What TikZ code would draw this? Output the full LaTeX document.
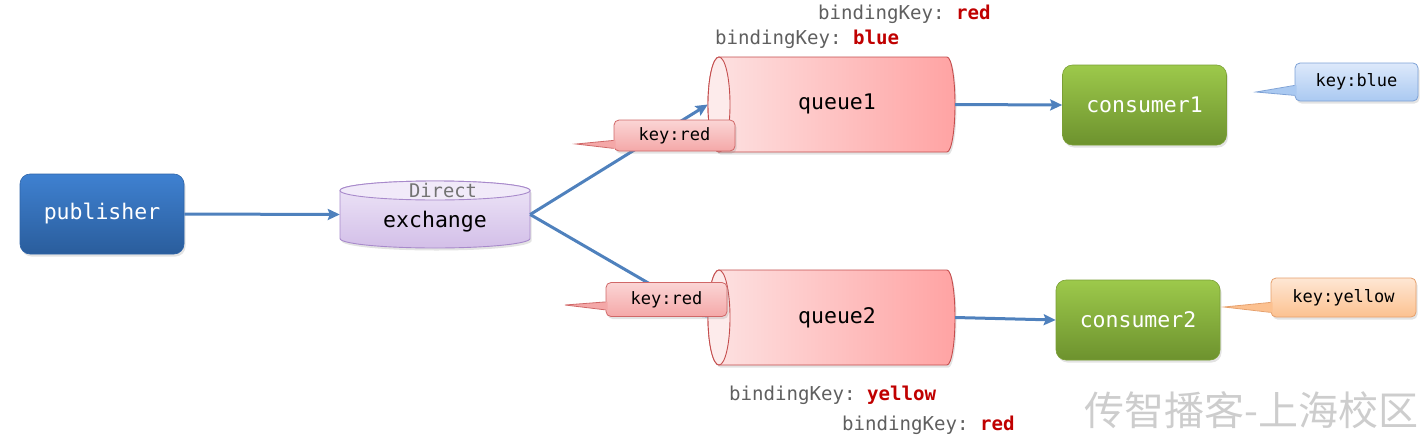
\documentclass[tikz,border=0pt]{standalone}
\usepackage{fontspec}
\setmonofont{DejaVu Sans Mono}
\newfontfamily\cjk{Noto Sans CJK SC}
\usetikzlibrary{arrows.meta,shadows,calc}
\definecolor{pubtop}{HTML}{3F81D1}
\definecolor{pubbot}{HTML}{2A5D9C}
\definecolor{pubborder}{HTML}{2E64A8}
\definecolor{contop}{HTML}{9DC94B}
\definecolor{conbot}{HTML}{6D922E}
\definecolor{conborder}{HTML}{7A9F35}
\definecolor{extop}{HTML}{EEE6F8}
\definecolor{exbot}{HTML}{D3BFE8}
\definecolor{exface}{HTML}{F1EAF9}
\definecolor{exborder}{HTML}{A88ACB}
\definecolor{qleft}{HTML}{FDE3E3}
\definecolor{qright}{HTML}{FFA3A3}
\definecolor{qborder}{HTML}{C44D4D}
\definecolor{qap}{HTML}{FDEBEB}
\definecolor{arrowblue}{HTML}{4F81BD}
\definecolor{bkgray}{HTML}{5F5F5F}
\definecolor{bkred}{HTML}{C00000}
\definecolor{redtop}{HTML}{FBD5D5}
\definecolor{redbot}{HTML}{F4A8A8}
\definecolor{redborder}{HTML}{D06868}
\definecolor{bluetop}{HTML}{DDE9FB}
\definecolor{bluebot}{HTML}{AAC9F1}
\definecolor{blueborder}{HTML}{7EA2D6}
\definecolor{yeltop}{HTML}{FEE7D4}
\definecolor{yelbot}{HTML}{FCC190}
\definecolor{yelborder}{HTML}{E6A06C}
\definecolor{wmark}{HTML}{CDCDCD}
\begin{document}
\begin{tikzpicture}[x=1pt,y=-1pt,
  shadowed/.style={drop shadow={opacity=0.22,shadow xshift=1.5pt,shadow yshift=-2.5pt}},
  bigtext/.style={font=\ttfamily\fontsize{21.5}{25}\selectfont},
  appbox/.style={shadowed,rounded corners=10pt,minimum width=164pt,minimum height=80pt,
    inner sep=0pt,bigtext,text=white},
  pubbox/.style={appbox,top color=pubtop,bottom color=pubbot,draw=pubborder,line width=0.6pt},
  conbox/.style={appbox,top color=contop,bottom color=conbot,draw=conborder,line width=0.6pt},
  shapebox/.style={rectangle,draw=none,inner sep=0pt},
  qbody/.style={shadowed,left color=qleft,right color=qright,draw=qborder,line width=0.9pt},
  exbody/.style={shadowed,top color=extop,bottom color=exbot,draw=exborder,line width=0.9pt},
  conn/.style={draw=arrowblue,line width=3pt,-{Stealth[length=12pt,width=11pt,inset=2pt]}},
  keybox/.style={shadowed,rectangle,rounded corners=5pt,inner sep=0pt,line width=0.8pt,
    font=\ttfamily\fontsize{17}{20}\selectfont},
  bklabel/.style={anchor=west,inner sep=0pt,text=bkgray,font=\ttfamily\fontsize{19.1}{22}\selectfont}]
\useasboundingbox (0,0) rectangle (1424,437);

% exchange cylinder
\path[exbody] (340,190.5) -- (340,238.5) arc[start angle=180,end angle=0,x radius=95,y radius=9.5]
  -- (530,190.5) arc[start angle=0,end angle=-180,x radius=95,y radius=9.5] -- cycle;
\filldraw[fill=exface,draw=exborder,line width=0.9pt] (435,190.5) ellipse[x radius=95,y radius=9.5];
\node[shapebox,minimum width=190pt,minimum height=67pt] (ex) at (435,214.5) {};
\node[inner sep=0pt,text=black!55,font=\ttfamily\fontsize{18.8}{22}\selectfont] (exdir) at (443,190) {Direct};
\node[inner sep=0pt,bigtext] (exname) at (435,222) {exchange};

% queue1
\path[qbody] (719,57) -- (947,57) arc[start angle=-90,end angle=90,x radius=8,y radius=47.5]
  -- (719,152) arc[start angle=90,end angle=270,x radius=11,y radius=47.5] -- cycle;
\filldraw[fill=qap,draw=qborder,line width=0.9pt] (719,104.5) ellipse[x radius=11,y radius=47.5];
\node[shapebox,minimum width=247pt,minimum height=95pt] (q1) at (831.5,104.5) {};
\node[inner sep=0pt,bigtext] (q1name) at (837,104) {queue1};

% queue2
\path[qbody] (719,270) -- (947,270) arc[start angle=-90,end angle=90,x radius=8,y radius=47.5]
  -- (719,365) arc[start angle=90,end angle=270,x radius=11,y radius=47.5] -- cycle;
\filldraw[fill=qap,draw=qborder,line width=0.9pt] (719,317.5) ellipse[x radius=11,y radius=47.5];
\node[shapebox,minimum width=247pt,minimum height=95pt] (q2) at (831.5,317.5) {};
\node[inner sep=0pt,bigtext] (q2name) at (837,318) {queue2};

% boxes
\node[pubbox] (pub) at (102,214) {publisher};
\node[conbox] (c1) at (1144.5,105) {consumer1};
\node[conbox] (c2) at (1138,320) {consumer2};

% connectors
\draw[conn] (pub.east) -- (ex.west);
\draw[conn] (ex.east) -- (q1.west);
\draw[conn] (ex.east) -- (q2.west);
\draw[conn] (q1.east) -- (c1.west);
\draw[conn] (q2.east) -- (c2.west);

% callouts
\node[keybox,top color=redtop,bottom color=redbot,draw=redborder,minimum width=121pt,minimum height=31pt]
  (k1) at (674.5,135.5) {key:red};
\coordinate (k1tip) at (576,144);
\fill[redbot] ($(k1.south west)+(2,-3)$) -- (k1tip) -- ($(k1.south west)+(2,-11)$) -- cycle;
\draw[redborder,line width=0.8pt] ($(k1.south west)+(0,-3)$) -- (k1tip) -- ($(k1.south west)+(0,-11)$);

\node[keybox,top color=redtop,bottom color=redbot,draw=redborder,minimum width=121pt,minimum height=34pt]
  (k2) at (666.5,299.5) {key:red};
\coordinate (k2tip) at (565,305);
\fill[redbot] ($(k2.south west)+(2,-7)$) -- (k2tip) -- ($(k2.south west)+(2,-15)$) -- cycle;
\draw[redborder,line width=0.8pt] ($(k2.south west)+(0,-7)$) -- (k2tip) -- ($(k2.south west)+(0,-15)$);

\node[keybox,top color=bluetop,bottom color=bluebot,draw=blueborder,minimum width=123pt,minimum height=38pt]
  (kb) at (1356.5,82) {key:blue};
\coordinate (kbtip) at (1256,92);
\fill[bluebot] ($(kb.south west)+(2,-6)$) -- (kbtip) -- ($(kb.south west)+(2,-16)$) -- cycle;
\draw[blueborder,line width=0.8pt] ($(kb.south west)+(0,-6)$) -- (kbtip) -- ($(kb.south west)+(0,-16)$);

\node[keybox,top color=yeltop,bottom color=yelbot,draw=yelborder,minimum width=145pt,minimum height=39pt]
  (ky) at (1343.5,297.5) {key:yellow};
\coordinate (kytip) at (1224,307);
\fill[yelbot] ($(ky.south west)+(2,-5)$) -- (kytip) -- ($(ky.south west)+(2,-15)$) -- cycle;
\draw[yelborder,line width=0.8pt] ($(ky.south west)+(0,-5)$) -- (kytip) -- ($(ky.south west)+(0,-15)$);

% binding key labels
\node[bklabel] (bk1) at (818,14) {bindingKey: \textbf{\textcolor{bkred}{red}}};
\node[bklabel] (bk2) at (715,39) {bindingKey: \textbf{\textcolor{bkred}{blue}}};
\node[bklabel] (bk3) at (729,395) {bindingKey: \textbf{\textcolor{bkred}{yellow}}};
\node[bklabel] (bk4) at (842,425) {bindingKey: \textbf{\textcolor{bkred}{red}}};

% watermark
\node[anchor=west,inner sep=0pt,text=wmark,font=\cjk\fontsize{40}{44}\selectfont] (wm) at (1084,410) {传智播客-上海校区};
\end{tikzpicture}
\end{document}
